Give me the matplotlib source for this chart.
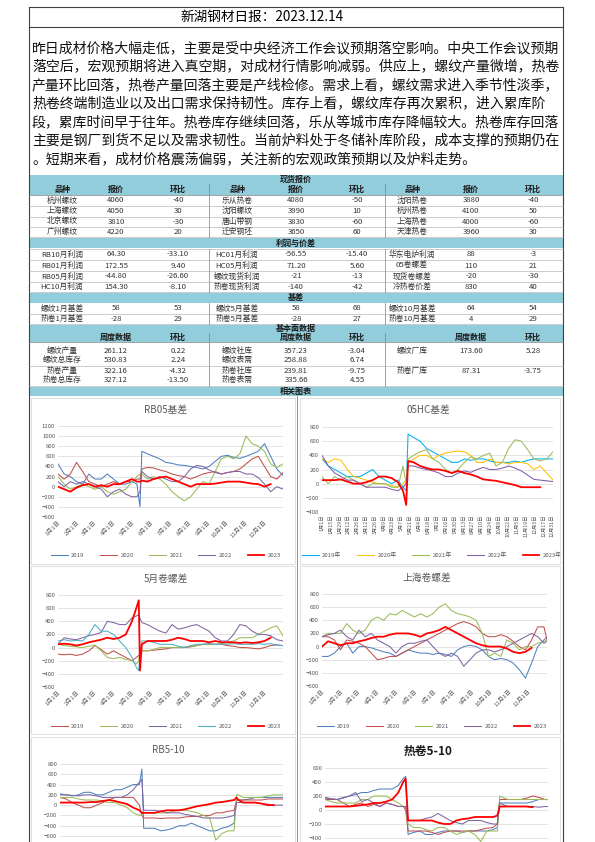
import numpy as np
import matplotlib
matplotlib.use("Agg")
import matplotlib.pyplot as plt
from matplotlib.patches import Rectangle
from matplotlib.lines import Line2D

plt.rcParams["font.family"] = ["Noto Sans CJK SC", "DejaVu Sans"]

nan = np.nan
W, H = 595, 842

# ---------------- text ----------------
title = "新湖钢材日报：2023.12.14"
summary_lines = [
    "昨日成材价格大幅走低，主要是受中央经济工作会议预期落空影响。中央工作会议预期",
    "落空后，宏观预期将进入真空期，对成材行情影响减弱。供应上，螺纹产量微增，热卷",
    "产量环比回落，热卷产量回落主要是产线检修。需求上看，螺纹需求进入季节性淡季，",
    "热卷终端制造业以及出口需求保持韧性。库存上看，螺纹库存再次累积，进入累库阶",
    "段，累库时间早于往年。热卷库存继续回落，乐从等城市库存降幅较大。热卷库存回落",
    "主要是钢厂到货不足以及需求韧性。当前炉料处于冬储补库阶段，成本支撑的预期仍在",
    "。短期来看，成材价格震荡偏弱，关注新的宏观政策预期以及炉料走势。",
]

# ---------------- tables ----------------
spot_header = ["品种", "报价", "环比"] * 3
spot_rows = [
    ["杭州螺纹", "4060", "-40", "乐从热卷", "4080", "-50", "沈阳热卷", "3880", "-40"],
    ["上海螺纹", "4050", "30", "沈阳螺纹", "3990", "10", "杭州热卷", "4100", "50"],
    ["北京螺纹", "3810", "-30", "唐山带钢", "3830", "-60", "上海热卷", "4000", "-60"],
    ["广州螺纹", "4220", "20", "迁安钢坯", "3650", "60", "天津热卷", "3960", "30"],
]
profit_rows = [
    ["RB10月利润", "64.30", "-33.10", "HC01月利润", "-56.55", "-15.40", "华东电炉利润", "88", "-3"],
    ["RB01月利润", "172.55", "9.40", "HC05月利润", "71.20", "5.60", "05卷螺差", "110", "21"],
    ["RB05月利润", "-44.80", "-26.60", "螺纹现货利润", "-21", "-13", "现货卷螺差", "-20", "-30"],
    ["HC10月利润", "154.30", "-8.10", "热卷现货利润", "-140", "-42", "冷热卷价差", "830", "40"],
]
basis_rows = [
    ["螺纹1月基差", "58", "53", "螺纹5月基差", "58", "68", "螺纹10月基差", "64", "54"],
    ["热卷1月基差", "-28", "29", "热卷5月基差", "-28", "27", "热卷10月基差", "4", "29"],
]
fund_header = ["", "周度数据", "环比"] * 3
fund_rows = [
    ["螺纹产量", "261.12", "0.22", "螺纹社库", "357.23", "-3.04", "螺纹厂库", "173.60", "5.28"],
    ["螺纹总库存", "530.83", "2.24", "螺纹表需", "258.88", "6.74", "", "", ""],
    ["热卷产量", "322.16", "-4.32", "热卷社库", "239.81", "-9.75", "热卷厂库", "87.31", "-3.75"],
    ["热卷总库存", "327.12", "-13.50", "热卷表需", "335.66", "4.55", "", "", ""],
]

# ---------------- chart data (day of year, value) ----------------
month_days = [0, 31, 59, 90, 120, 151, 181, 212, 243, 273, 304, 334]
month_labels = ["1月1日", "2月1日", "3月1日", "4月1日", "5月1日", "6月1日",
                "7月1日", "8月1日", "9月1日", "10月1日", "11月1日", "12月1日"]
biweek_labels = ["1月1日", "1月15日", "1月29日", "2月12日", "2月26日", "3月12日", "3月26日",
                 "4月9日", "4月23日", "5月7日", "5月21日", "6月4日", "6月18日", "7月2日",
                 "7月16日", "7月30日", "8月13日", "8月27日", "9月10日", "9月24日", "10月8日",
                 "10月22日", "11月5日", "11月19日", "12月3日", "12月17日", "12月31日"]

days_a = [0, 10, 20, 30, 40, 50, 60, 70, 80, 90, 100, 110, 120, 128, 133, 136,
          145, 155, 165, 175, 185, 195, 205, 215, 225, 235, 245, 255, 265, 275,
          285, 295, 305, 315, 325, 335, 345, 355, 365]

rb05_2019 = [450, 250, 200, 100, 50, 250, 150, 150, 250, 150, 50, 50, 100, 50, -400, 700,
             650, 600, 550, 480, 460, 430, 420, 400, 380, 350, 400, 500, 600, 620, 580, 560,
             600, 650, 700, 850, 600, 350, 220]
rb05_2020 = [250, 150, 250, 480, 300, 100, 50, 0, 50, 100, 50, 100, 100, 150, 150, 350,
             380, 370, 330, 300, 250, 220, 200, 150, 200, 250, 280, 300, 250, 280, 300, 350,
             450, 550, 600, 400, 200, 150, 280]
rb05_2021 = [200, 50, -50, 0, 50, 0, -50, 0, -100, -150, -100, -50, 100, 200, 250, 250,
             150, 200, 150, 50, -100, -200, -280, -200, -50, 100, 50, 300, 550, 600, 550, 650,
             1000, 850, 800, 700, 450, 380, 450]
rb05_2022 = [100, 0, 100, 50, 100, 50, 0, -50, -200, -100, -50, -150, -200, -200, -100, 300,
             200, 150, 200, 150, 100, 100, 200, 350, 420, 400, 330, 280, 250, 280, 300, 300,
             250, 250, 180, 50, -100, 0, -50]
rb05_2023 = [0, -50, -100, -20, 30, 50, 0, 30, 0, 50, 50, 100, 150, 100, 100, 120,
             100, 150, 180, 200, 150, 100, 50, 0, 50, 50, 50, 60, 80, 100, 100, 100,
             80, 60, 50, 0, 50, nan, nan]

hc05_2019 = [350, 250, 200, 150, 100, 100, 100, 150, 200, 100, 50, 0, 50, -50, -100, 700,
             650, 600, 500, 450, 400, 350, 300, 300, 350, 330, 350, 350, 320, 300, 300, 300,
             320, 300, 330, 350, 350, 350, 350]
hc05_2020 = [350, 300, 350, 330, 200, 100, 80, 50, 20, 0, 0, -30, -50, 0, 50, 300,
             350, 400, 400, 350, 400, 430, 450, 460, 450, 400, 300, 300, 350, 300, 300, 280,
             300, 300, 280, 200, 250, 150, 50]
hc05_2021 = [100, 0, 100, 50, 100, 50, 0, -50, 0, 0, 0, -50, -50, 250, 0, 350,
             400, 450, 480, 350, 300, 200, 150, 200, 300, 380, 350, 400, 430, 250, 300, 500,
             620, 600, 480, 350, 320, 350, 450]
hc05_2022 = [400, 250, 150, 100, 50, 50, 0, -50, -50, -50, -50, -80, -100, -50, 0, 250,
             250, 220, 200, 180, 150, 100, 100, 150, 180, 160, 200, 230, 200, 200, 220, 250,
             220, 180, 120, 60, 50, 40, 30]
hc05_2023 = [50, 50, 50, 60, 30, 0, 0, 20, 50, 100, 100, 80, 20, -100, -300, 320,
             300, 250, 220, 200, 200, 180, 150, 180, 150, 130, 100, 60, 50, 40, 20, 0,
             -20, -50, -50, -50, -50, nan, nan]

days_b = [0, 10, 20, 30, 40, 50, 60, 70, 80, 90, 100, 110, 120, 127, 131, 133, 136,
          145, 155, 165, 175, 185, 195, 205, 215, 225, 235, 245, 255, 265, 275,
          285, 295, 305, 315, 325, 335, 345, 355, 365]

spr5_2019 = [-100, -110, -100, -120, -100, -50, 30, -30, -100, -50, -100, -150, -200, -150, -120, -100, -50,
             -50, -40, -30, -20, 0, 0, 0, 10, 30, 50, 50, 50, 50, 30, 20, 0, 0, -10, -20, 0, 30, 40, 30]
spr5_2020 = [50, 30, 20, 10, 0, 20, 40, -50, -150, -170, -150, -180, -200, -250, -200, -50, -40,
             -50, -30, 0, 0, 0, 0, 10, 20, 30, 50, 50, 50, 60, 80, 100, 150, 150, 150, 200, 250, 300, 330, 180]
spr5_2021 = [50, 150, 130, 120, 150, 180, 200, 230, 400, 380, 350, 350, 450, 480, 500, 450, 380,
             350, 300, 250, 220, 350, 280, 300, 330, 350, 300, 250, 150, 100, 100, 200, 350, 330, 250, 200,
             200, 180, 120, 100]
spr5_2022 = [100, 120, 100, 110, 100, 200, 350, 250, 250, 200, 100, 0, -150, -300, -350, -100, 100,
             100, 80, 50, 50, 50, 20, 0, 30, 50, 50, 60, 50, 50, 50, 60, 50, 50, 50, 60, 50, 60, 40, 30]
spr5_2023 = [50, 60, 50, 30, 50, 80, 100, 120, 150, 130, 150, 200, 400, 600, 720, -350, 50,
             100, 100, 100, 100, 120, 150, 130, 100, 100, 100, 80, 100, 80, 80, 80, 70, 80, 70, 80,
             100, 150, nan, nan]

days_c = [0, 10, 20, 30, 40, 50, 60, 70, 80, 90, 100, 110, 120, 130, 140, 150, 160, 170,
          180, 190, 200, 210, 220, 230, 240, 250, 260, 270, 280, 290, 300, 310, 320, 330,
          340, 350, 360, 365]

sh_2019 = [-150, -150, -100, 0, 50, -100, 0, 0, -20, -50, -80, -100, -150, -100, -50, -80, -100, -100,
           -120, -100, -120, -150, -50, 0, 20, 0, -50, -150, -200, -180, -200, -250, -350, -480,
           -250, 0, 100, 150]
sh_2020 = [150, 150, 100, -50, 100, 80, 50, 0, -100, -200, -180, -150, -150, -100, -50, 0, 50, 100,
           150, 200, 250, 300, 350, 380, 350, 300, 200, 150, 150, 180, 150, 80, 0, -50,
           100, 300, 300, 100]
sh_2021 = [150, 200, 200, 200, 350, 250, 200, 250, 400, 450, 400, 500, 480, 550, 500, 450, 500, 450,
           500, 600, 650, 550, 500, 480, 450, 400, 200, -150, -100, -150, 100, 50, -50, 0,
           0, 50, 80, 100]
sh_2022 = [150, 180, 200, 250, 150, 100, 250, 150, 200, 100, 50, 0, -100, 0, 50, 50, 80, 100,
           0, -100, -150, -100, -150, -300, -200, -100, -50, -50, -80, -50, 0, 50, 100, 150,
           200, 150, 50, 80]
sh_2023 = [0, 80, 50, 20, 50, 50, 80, 100, 130, 150, 150, 180, 200, 200, 200, 180, 150, 200,
           220, 250, 300, 250, 200, 150, 100, 50, 20, 0, 0, 0, -30, -80, -100, -80,
           -20, nan, nan, nan]

days_d = [0, 10, 20, 30, 40, 50, 60, 70, 80, 90, 100, 110, 120, 130, 134, 137,
          145, 155, 165, 175, 185, 195, 205, 215, 225, 235, 245, 255, 265, 275, 285,
          289, 292, 300, 310, 320, 330, 340, 350, 360, 365]

rb510_2019 = [220, 200, 180, 200, 250, 250, 200, 200, 250, 300, 300, 350, 400, 400, 700, -450,
              -450, -450, -500, -480, -450, -400, -400, -350, -400, -450, -500, -500, -450, -420, -350,
              100, 100, 100, 120, 150, 150, 150, 150, 150, 150]
rb510_2020 = [150, 120, 50, 0, -50, -50, 0, 50, 100, 150, 150, 150, 150, 0, -200, -250,
              -250, -250, -260, -250, -250, -250, -230, -220, -220, -200, -200, -150, -150, -120, -100,
              100, 100, 100, 100, 100, 100, 120, 120, 120, 120]
rb510_2021 = [150, 150, 150, 120, 100, 100, 100, 80, 50, 50, 0, -50, -150, -200, -180, -150,
              -150, -150, -150, -150, -120, -100, -100, -120, -150, -200, -250, -680, -550, -500, -500,
              200, 200, 150, 150, 150, 150, 180, 200, 200, 200]
rb510_2022 = [200, 200, 190, 180, 200, 200, 180, 150, 150, 150, 150, 200, 300, 450, 500, -100,
              -100, -100, -120, -150, -150, -150, -180, -200, -220, -250, -250, -250, -250, -230, -200,
              50, 50, 50, 50, 50, 30, 20, 0, 0, 0]
rb510_2023 = [50, 50, 50, 50, 50, 60, 60, 80, 100, 80, 50, 20, -50, -100, -150, -150,
              -150, -150, -120, -100, -100, -100, -80, -50, -20, 0, 20, 50, 60, 80, 100,
              150, 100, 50, 50, 50, 30, 0, 0, nan, nan]

days_e = [0, 10, 20, 30, 40, 50, 60, 70, 80, 90, 100, 110, 120, 128, 132, 136,
          145, 155, 165, 175, 185, 195, 205, 215, 225, 235, 245, 255, 265, 275,
          282, 286, 290, 300, 310, 320, 330, 340, 350, 360, 365]

hc510_2019 = [170, 160, 150, 170, 200, 220, 250, 250, 280, 300, 300, 300, 350, 450, 480, -350,
              -320, -300, -350, -350, -320, -300, -300, -300, -320, -300, -300, -300, -300, -280,
              -250, 100, 100, 100, 100, 100, 100, 120, 150, 150, 150]
hc510_2020 = [150, 150, 150, 100, 50, 80, 100, 50, 80, 50, 100, 80, 50, 50, 0, -300,
              -300, -300, -300, -320, -350, -320, -300, -300, -300, -300, -300, -280, -260, -250,
              -200, 150, 150, 150, 150, 150, 170, 200, 180, 150, 150]
hc510_2021 = [150, 120, 100, 100, 100, 100, 150, 150, 200, 200, 200, 150, 100, 50, 50, -200,
              -250, -250, -280, -300, -250, -250, -300, -350, -320, -300, -350, -450, -300, -300,
              -300, 200, 180, 150, 150, 150, 150, 150, 150, 150, 150]
hc510_2022 = [180, 160, 150, 180, 200, 250, 120, 150, 100, 50, 100, 80, 50, 50, 50, -150,
              -150, -150, -120, -100, -50, -100, -150, -180, -200, -150, -150, -150, -180, -200,
              -200, 100, 80, 50, 50, 50, 50, 50, 40, 50, 50]
hc510_2023 = [50, 50, 50, 50, 50, 60, 70, 80, 100, 100, 120, 150, 250, 400, 450, -150,
              -150, -150, -150, -150, -180, -200, -200, -150, -130, -120, -100, -100, -100, -100,
              -80, 50, 50, 50, 50, 50, 50, 40, nan, nan, nan]

# palettes
pal_a = ["#4F81BD", "#C0504D", "#9BBB59", "#8064A2", "#FF0000"]
pal_b = ["#00B0F0", "#FFC000", "#9BBB59", "#7F5FA8", "#FF0000"]
pal_c = ["#C0504D", "#9BBB59", "#8064A2", "#4BACC6", "#FF0000"]
years = ["2019", "2020", "2021", "2022", "2023"]

BAND = "#92CDDC"
GRAY = "#595959"


fig = plt.figure(figsize=(5.95, 8.42), dpi=100)


def fx(x):
    return x / W


def fy(y):
    return 1 - y / H


def hline(y, x0, x1, color="#7F7F7F", lw=0.5):
    fig.add_artist(Line2D([fx(x0), fx(x1)], [fy(y), fy(y)], color=color, lw=lw))


def vline(x, y0, y1, color="#7F7F7F", lw=0.5):
    fig.add_artist(Line2D([fx(x), fx(x)], [fy(y0), fy(y1)], color=color, lw=lw))


def fill(x0, y0, x1, y1, color):
    fig.add_artist(Rectangle((fx(x0), fy(y1)), fx(x1) - fx(x0), fy(y0) - fy(y1),
                             facecolor=color, edgecolor="none"))


def frame(x0, y0, x1, y1, color="#D9D9D9", lw=0.6):
    fig.add_artist(Rectangle((fx(x0), fy(y1)), fx(x1) - fx(x0), fy(y0) - fy(y1),
                             facecolor="none", edgecolor=color, lw=lw))


def txt(x, y, s, size=5.8, **kw):
    fig.text(fx(x), fy(y), s, ha="center", va="center", fontsize=size, **kw)


# ---- page frame and title ----
hline(7, 29, 563, "#404040", 0.8)
hline(27, 29, 563, "#404040", 0.8)
vline(29, 7, 842, "#404040", 0.8)
vline(563, 7, 842, "#404040", 0.8)
txt(262, 17, title, size=9.8, color="black")

for i, line in enumerate(summary_lines):
    fig.text(fx(32), fy(48 + i * 18.5), line, ha="left", va="center", fontsize=10.0, color="#111111")

# ---- tables ----
col_x = [62, 116, 178, 237, 296, 357, 412, 471, 533]
L, R = 29, 563


def band(y0, y1, label):
    fill(L, y0, R, y1, BAND)
    txt(296, (y0 + y1) / 2, label, size=5.8, weight="bold", color="#1a1a1a")


def header(y0, y1, labels):
    fill(L, y0, R, y1, BAND)
    for cx, s in zip(col_x, labels):
        if s:
            txt(cx, (y0 + y1) / 2, s, size=5.8, weight="bold", color="#1a1a1a")
    hline(y1, L, R, "#7F7F7F", 0.5)


def rows(y_centers, data, line_ys):
    for yc, row in zip(y_centers, data):
        for cx, s in zip(col_x, row):
            if s:
                txt(cx, yc, s, size=5.6, color="#333333")
    for ly in line_ys:
        hline(ly, L, R, "#A6A6A6", 0.4)


band(175, 184, "现货报价")
header(184, 195, spot_header)
rows([200.5, 211, 221.5, 232], spot_rows, [206, 216.5, 227, 237])
vline(209, 184, 237)
vline(385, 184, 237)

band(238.5, 248.5, "利润与价差")
rows([254.5, 265.5, 276.5, 287], profit_rows, [249, 260, 271, 282, 292])
vline(209, 249, 292)
vline(385, 249, 292)

band(293, 303, "基差")
rows([308.5, 319], basis_rows, [314, 324])
vline(209, 303, 324)
vline(385, 303, 324)

band(324.5, 333, "基本面数据")
header(333, 342, fund_header)
rows([351, 360, 371, 380], fund_rows, [365.5, 385.5])
vline(209, 333, 385.5)
vline(385, 333, 385.5)

band(387, 396, "相关图表")

# ---- chart panels ----
frame(31, 398, 295, 564)
frame(300, 398, 560, 564)
frame(31, 566, 295, 734)
frame(300, 566, 560, 734)
frame(31, 737, 295, 850)
frame(300, 737, 560, 850)
vline(297, 396, 842, "#7F7F7F", 0.6)


def make_axes(x0, x1, y_top, y_bot):
    ax = fig.add_axes([fx(x0), fy(y_bot), fx(x1) - fx(x0), fy(y_top) - fy(y_bot)])
    ax.patch.set_visible(False)
    for sp in ax.spines.values():
        sp.set_visible(False)
    ax.tick_params(length=0, labelsize=4.3, labelcolor=GRAY, pad=2)
    ax.grid(axis="y", color="#D9D9D9", lw=0.5)
    ax.set_axisbelow(True)
    ax.set_xlim(0, 365)
    return ax


def draw(ax, days, series, colors, labels, legend_xy=None):
    handles = []
    for s, c, lab in zip(series, colors, labels):
        lw = 1.3 if lab.startswith("2023") else 0.75
        h, = ax.plot(days, s, color=c, lw=lw, label=lab)
        handles.append(h)
    if legend_xy is not None:
        ax.legend(handles=handles, loc="center", bbox_to_anchor=(fx(legend_xy[0]), fy(legend_xy[1])),
                  bbox_transform=fig.transFigure, ncol=5, frameon=False, fontsize=4.3,
                  handlelength=2.8, handletextpad=0.6, columnspacing=2.6, labelcolor=GRAY)


def month_ticks(ax):
    ax.set_xticks(month_days)
    ax.set_xticklabels(month_labels, rotation=45, ha="right", rotation_mode="anchor")


# RB05基差
ax1 = make_axes(58, 283, 426, 517)
ax1.set_ylim(-600, 1200)
ax1.set_yticks(range(-600, 1201, 200))
month_ticks(ax1)
draw(ax1, days_a, [rb05_2019, rb05_2020, rb05_2021, rb05_2022, rb05_2023], pal_a, years, (166, 555))
txt(166, 410, "RB05基差", size=7, color=GRAY)

# 05HC基差
ax2 = make_axes(322, 553, 427, 512)
ax2.set_ylim(-400, 800)
ax2.set_yticks(range(-400, 801, 200))
ax2.set_xticks(list(range(0, 365, 14)))
ax2.set_xticklabels(biweek_labels, rotation=90, ha="center", va="top")
ax2.tick_params(axis="x", labelsize=3.8)
draw(ax2, days_a, [hc05_2019, hc05_2020, hc05_2021, hc05_2022, hc05_2023], pal_b,
     [y + "年" for y in years], (432, 555))
txt(428, 410, "05HC基差", size=7, color=GRAY)

# 5月卷螺差
ax3 = make_axes(58, 283, 595, 687)
ax3.set_ylim(-600, 800)
ax3.set_yticks(range(-600, 801, 200))
month_ticks(ax3)
draw(ax3, days_b, [spr5_2019, spr5_2020, spr5_2021, spr5_2022, spr5_2023], pal_c, years, (166, 726))
txt(166, 579, "5月卷螺差", size=7, color=GRAY)

# 上海卷螺差
ax4 = make_axes(322, 547, 594, 686)
ax4.set_ylim(-600, 800)
ax4.set_yticks(range(-600, 801, 200))
month_ticks(ax4)
draw(ax4, days_c, [sh_2019, sh_2020, sh_2021, sh_2022, sh_2023], pal_a, years, (432, 726))
txt(427, 578, "上海卷螺差", size=7, color=GRAY)

# RB5-10 (cut by page bottom)
ax5 = make_axes(60, 283, 764, 847)
ax5.set_ylim(800 - 83 / 72 * 1400, 800)
ax5.set_yticks(range(-600, 801, 200))
ax5.set_xticks([])
draw(ax5, days_d, [rb510_2019, rb510_2020, rb510_2021, rb510_2022, rb510_2023], pal_a, years)
txt(168, 750, "RB5-10", size=7, color=GRAY)

# 热卷5-10 (cut by page bottom)
ax6 = make_axes(325, 548, 768, 848)
ax6.set_ylim(600 - 80 / 70 * 1000, 600)
ax6.set_yticks(range(-400, 601, 200))
ax6.set_xticks([])
draw(ax6, days_e, [hc510_2019, hc510_2020, hc510_2021, hc510_2022, hc510_2023], pal_a, years)
txt(428, 751, "热卷5-10", size=8.5, weight="bold", color="#1a1a1a")

fig.savefig("out.png", dpi=100)
